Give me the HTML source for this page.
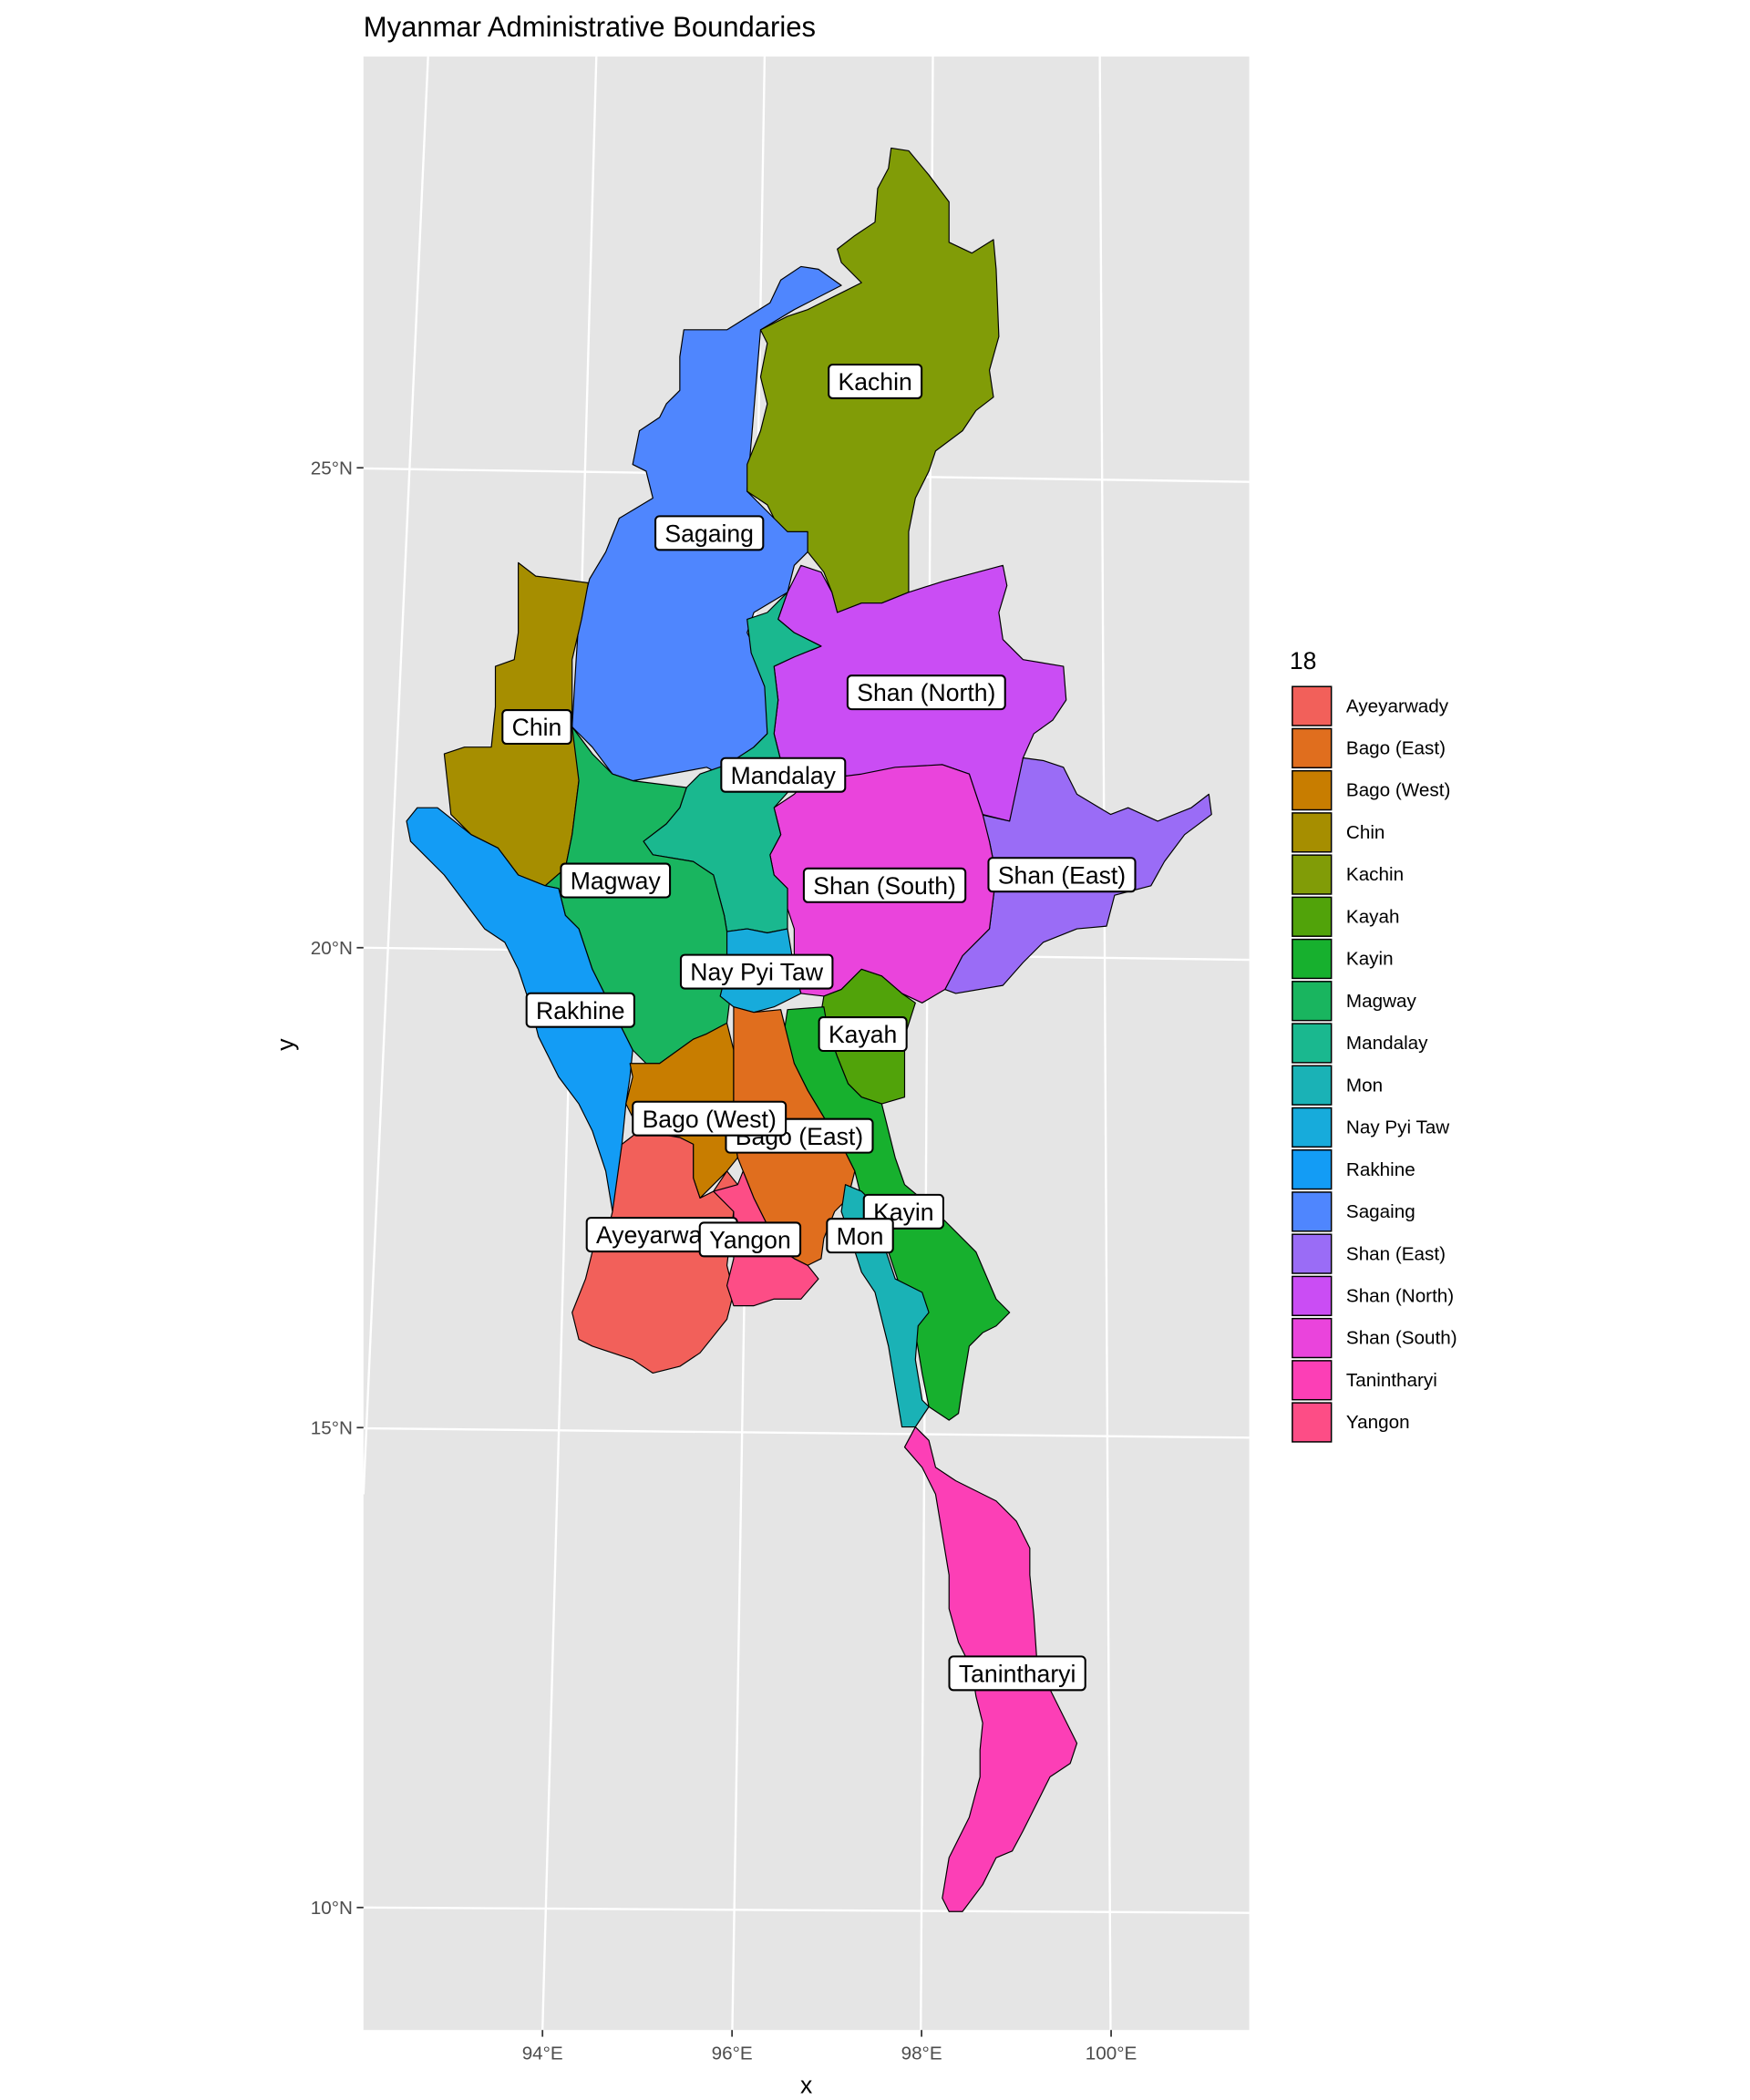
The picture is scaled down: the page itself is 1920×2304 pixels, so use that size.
<!DOCTYPE html>
<html><head><meta charset="utf-8"><style>
html,body{margin:0;padding:0;background:#fff}
svg{display:block;font-family:"Liberation Sans",Arial,sans-serif}
</style></head><body>
<svg id="chart" width="1920" height="2304" viewBox="0 0 1300 1560" xmlns="http://www.w3.org/2000/svg">
<rect width="1300" height="1560" fill="#fff"/>
<text x="270" y="27" font-size="21" fill="#000">Myanmar Administrative Boundaries</text>
<rect x="270" y="42" width="658" height="1466" fill="#e5e5e5"/>
<g id="grid" stroke="#fff" stroke-width="1.6" fill="none">
<line x1="318" y1="42" x2="270" y2="1110"/>
<line x1="443" y1="42" x2="403" y2="1508"/>
<line x1="568" y1="42" x2="544" y2="1508"/>
<line x1="693" y1="42" x2="684" y2="1508"/>
<line x1="817" y1="42" x2="825" y2="1508"/>
<line x1="270" y1="348" x2="928" y2="358"/>
<line x1="270" y1="704" x2="928" y2="713"/>
<line x1="270" y1="1061" x2="928" y2="1068"/>
<line x1="270" y1="1417" x2="928" y2="1421"/>
</g>
<g id="regions" stroke="#000" stroke-width="0.8" stroke-linejoin="round"></g>
<g id="labels"></g>
<g id="axes" font-size="14" fill="#4d4d4d"></g>
<text x="599" y="1555" font-size="18" text-anchor="middle">x</text>
<text x="218" y="776" font-size="18" text-anchor="middle" transform="rotate(-90 218 776)">y</text>
<g id="legend"></g>
</svg>
<script>
const regionNames=["Ayeyarwady","Bago (East)","Bago (West)","Chin","Kachin","Kayah","Kayin","Magway","Mandalay","Mon","Nay Pyi Taw","Rakhine","Sagaing","Shan (East)","Shan (North)","Shan (South)","Tanintharyi","Yangon"];
const regionColors=["#F2605A","#E06E1E","#C87D00","#A68E00","#819C07","#51A30A","#17B02E","#19B55F","#1AB88F","#1AB2B6","#17ABDB","#139CF5","#4F86FE","#9A6CF6","#CA4DF4","#EA44DC","#FC3FB6","#FD4D86"];
const labelLon=[95.26,96.71,95.76,93.94,97.51,97.38,97.81,94.77,96.54,97.35,96.26,94.40,95.76,99.48,98.05,97.61,99.01,96.19];
const labelLat=[17.01,18.04,18.22,22.30,25.90,19.10,17.25,20.70,21.80,17.00,19.75,19.35,24.32,20.76,22.66,20.65,12.44,16.96];
const latTicks=[25,20,15,10];
const lonTicks=[94,96,98,100];
function xScale(lon){return 403+(lon-94)*70.4;}
function yScale(lat){return 704-(lat-20)*71.3;}
const NS="http://www.w3.org/2000/svg";
const shapes={
"Sagaing":"608,200 625,212 590,230 565,245 555,365 575,385 600,395 600,410 590,420 585,440 560,455 555,470 570,500 570,545 555,560 535,575 525,570 470,580 455,575 440,555 425,540 428,490 430,460 438,430 450,410 460,385 485,370 480,350 470,345 475,320 490,310 495,300 505,290 505,265 508,245 540,245 572,225 580,208 595,198",
"Kachin":"662,110 675,112 690,130 705,150 705,180 722,188 738,178 740,200 742,250 735,275 738,295 725,305 715,320 695,335 690,350 680,370 675,395 675,440 655,448 640,448 622,455 618,440 612,425 600,410 600,395 585,395 575,385 570,375 555,365 555,345 565,320 570,300 565,280 570,255 565,245 585,235 600,230 630,215 640,210 625,195 622,185 635,175 650,165 652,140 660,125",
"Shan (North)":"585,440 595,420 610,425 618,440 622,455 640,448 655,448 675,440 700,432 745,420 748,435 742,455 745,475 760,490 790,495 792,520 782,535 768,545 760,563 755,590 750,610 730,605 720,575 700,568 650,580 620,575 600,570 580,565 575,545 578,520 575,495 590,488 610,480 590,470 578,460",
"Shan (East)":"760,563 775,565 790,570 800,590 825,605 838,600 860,610 885,600 898,590 900,605 880,620 865,640 855,658 828,665 822,688 800,690 775,700 760,715 745,732 710,738 702,735 715,710 735,690 740,650 735,625 728,605 750,610",
"Shan (South)":"575,600 590,590 600,580 640,575 665,570 700,568 720,575 730,605 735,625 740,650 735,690 715,710 702,735 685,745 670,738 655,725 640,720 625,735 612,740 595,738 590,720 590,690 585,675 585,660 575,650 572,635 580,620",
"Mandalay":"555,460 570,455 585,440 578,460 590,470 610,480 590,488 575,495 578,520 575,545 580,565 600,572 575,600 580,620 572,635 575,650 585,660 585,690 570,693 555,690 540,692 538,680 530,650 515,640 485,635 478,625 495,612 505,600 510,585 520,575 540,568 560,555 570,545 568,510 558,485",
"Chin":"385,418 398,428 415,430 437,433 432,460 425,490 425,540 440,560 430,580 425,620 420,645 405,658 385,650 370,630 350,620 335,605 330,560 345,555 365,555 368,525 368,495 382,490 385,470 385,440",
"Magway":"425,540 440,560 455,575 470,580 510,585 505,600 495,612 478,625 485,635 515,640 530,650 538,680 540,692 545,720 540,760 525,768 515,772 490,790 480,790 470,780 460,760 450,740 440,720 430,690 420,680 415,660 405,658 420,645 425,620 430,580",
"Rakhine":"310,600 325,600 335,608 350,620 370,630 385,650 405,658 415,660 420,680 430,690 440,720 450,740 460,760 470,780 468,800 465,820 462,850 468,870 470,890 455,900 450,870 440,840 430,820 415,800 410,790 400,770 395,750 385,720 375,700 360,690 345,670 330,650 320,640 305,625 302,610",
"Nay Pyi Taw":"540,692 555,690 570,693 585,690 590,720 595,738 575,748 560,752 545,748 535,740 540,720",
"Kayah":"612,740 625,735 640,720 655,725 670,738 680,745 672,770 672,790 672,815 655,820 640,815 630,805 622,785 615,765 610,752",
"Kayin":"585,750 612,748 615,765 622,785 630,805 640,815 655,820 660,840 665,860 672,880 690,895 705,910 725,930 740,965 750,975 740,985 730,990 720,1000 715,1030 712,1050 705,1055 690,1045 685,1020 680,990 670,960 660,930 650,905 640,890 635,870 625,850 612,830 600,810 590,790 582,770",
"Bago (West)":"468,790 480,790 490,790 515,772 525,768 540,760 545,780 545,810 545,840 548,860 540,870 530,880 520,890 515,875 515,850 505,845 475,840 465,820 470,800",
"Bago (East)":"545,748 560,752 580,750 585,770 590,790 600,810 612,830 625,850 635,870 630,890 620,900 612,920 610,935 600,940 590,935 575,925 570,910 560,890 552,870 548,860 545,840 545,780",
"Ayeyarwady":"462,850 475,840 505,845 515,850 515,875 520,890 530,885 540,870 548,880 545,900 540,940 545,960 540,980 520,1005 505,1015 485,1020 470,1010 455,1005 440,1000 430,995 425,975 435,950 440,930 450,920 455,900",
"Yangon":"530,885 548,880 552,870 560,890 570,910 575,925 590,935 600,940 608,950 595,965 575,965 560,970 545,970 540,955 545,935 545,900",
"Mon":"628,880 640,885 650,895 655,920 660,935 665,950 685,960 690,975 682,985 680,1010 685,1040 690,1045 680,1060 670,1060 665,1030 660,1000 655,980 650,960 640,945 632,920 625,900",
"Tanintharyi":"680,1060 690,1070 695,1090 710,1100 740,1115 755,1130 765,1150 765,1170 768,1200 770,1230 780,1255 790,1275 800,1295 795,1310 780,1320 770,1340 760,1360 752,1375 740,1380 730,1400 715,1420 705,1420 700,1410 705,1380 720,1350 728,1320 728,1300 730,1280 725,1260 722,1240 712,1220 705,1195 705,1170 700,1140 695,1110 685,1090 672,1075"
};
const rg=document.getElementById('regions');
Object.keys(shapes).forEach(function(n){
  const p=document.createElementNS(NS,'polygon');
  p.setAttribute('points',shapes[n]);
  p.setAttribute('fill',regionColors[regionNames.indexOf(n)]);
  
  
  rg.appendChild(p);
});
const lg=document.getElementById('labels');
regionNames.forEach(function(n,i){
  const cx=xScale(labelLon[i]), cy=yScale(labelLat[i]);
  const g=document.createElementNS(NS,'g');
  
  
  const t=document.createElementNS(NS,'text');
  t.setAttribute('x',cx);t.setAttribute('y',cy+6.5);
  t.setAttribute('font-size','18');t.setAttribute('text-anchor','middle');
  t.textContent=n;
  const r=document.createElementNS(NS,'rect');
  g.appendChild(r);g.appendChild(t);lg.appendChild(g);
  const w=t.getComputedTextLength()+14;
  r.setAttribute('x',cx-w/2);r.setAttribute('y',cy-12.5);
  r.setAttribute('width',w);r.setAttribute('height',25);
  r.setAttribute('rx',3);r.setAttribute('fill','#fff');
  r.setAttribute('stroke','#000');r.setAttribute('stroke-width','1.4');
});
const ax=document.getElementById('axes');
latTicks.forEach(function(v){
  const y=yScale(v);
  const t=document.createElementNS(NS,'text');
  
  
  t.setAttribute('x',262);t.setAttribute('y',y+5);t.setAttribute('text-anchor','end');
  t.textContent=v+'°N';ax.appendChild(t);
  const l=document.createElementNS(NS,'line');
  
  
  l.setAttribute('x1',265);l.setAttribute('x2',270);l.setAttribute('y1',y);l.setAttribute('y2',y);
  l.setAttribute('stroke','#333');l.setAttribute('stroke-width','1.2');ax.appendChild(l);
});
lonTicks.forEach(function(v){
  const x=xScale(v);
  const t=document.createElementNS(NS,'text');
  
  
  t.setAttribute('x',x);t.setAttribute('y',1530);t.setAttribute('text-anchor','middle');
  t.textContent=v+'°E';ax.appendChild(t);
  const l=document.createElementNS(NS,'line');
  
  
  l.setAttribute('x1',x);l.setAttribute('x2',x);l.setAttribute('y1',1508);l.setAttribute('y2',1513);
  l.setAttribute('stroke','#333');l.setAttribute('stroke-width','1.2');ax.appendChild(l);
});
const leg=document.getElementById('legend');
const lt=document.createElementNS(NS,'text');


lt.setAttribute('x',958);lt.setAttribute('y',497);lt.setAttribute('font-size','18');
lt.textContent='18';leg.appendChild(lt);
regionNames.forEach(function(n,i){
  const y=509+i*31.3;
  const g=document.createElementNS(NS,'g');
  
  
  const r=document.createElementNS(NS,'rect');
  r.setAttribute('x',960);r.setAttribute('y',y+1);r.setAttribute('width',29);r.setAttribute('height',29);
  r.setAttribute('fill',regionColors[i]);r.setAttribute('stroke','#000');r.setAttribute('stroke-width','1');
  const t=document.createElementNS(NS,'text');
  t.setAttribute('x',1000);t.setAttribute('y',y+20);t.setAttribute('font-size','14');
  t.textContent=n;
  g.appendChild(r);g.appendChild(t);leg.appendChild(g);
});
</script>
</body></html>
